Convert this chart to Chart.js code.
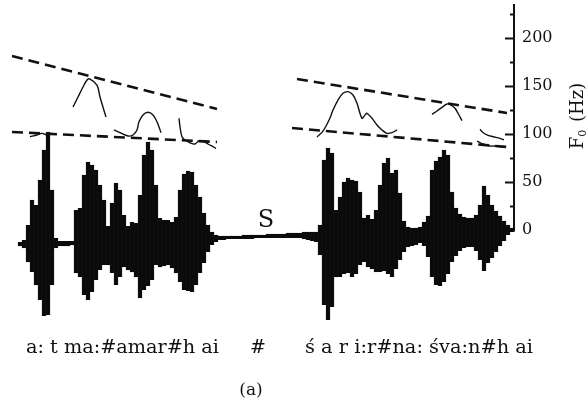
<!DOCTYPE html>
<html>
<head>
<meta charset="utf-8">
<script src="https://cdn.jsdelivr.net/npm/chart.js@4.4.1/dist/chart.umd.min.js"></script>
<style>
html,body{margin:0;padding:0;background:#fff;}
#wrap{width:588px;height:401px;}
</style>
</head>
<body>
<div id="wrap"><canvas id="c" width="588" height="401"></canvas></div>
<script>
const FONT = '"DejaVu Serif", "Liberation Serif", serif';

// ---- speech waveform envelope (time units along the record, amplitude in arbitrary units)
const waveStart = 20, waveStep = 4;
const waveTop = [
  -2, 0, 15, 40, 35, 60, 90, 108, 50, 2, -1, -1, -1, -1,
  30, 32, 65, 78, 75, 70, 55, 40, 14, 37, 57, 50, 25, 14, 18, 17,
  45, 85, 98, 90, 55, 22, 20, 20, 18, 23, 50, 66, 69, 68, 55, 43, 27, 15, 8, 5,
  4, 4, 4, 4, 4, 4, 5, 5, 5, 5, 5, 5, 6, 6, 6, 6, 6, 7, 7, 7, 7, 8, 8, 8, 8,
  15, 80, 92, 87, 30, 43, 58, 62, 60, 59, 48, 22, 25, 21, 30, 55, 77, 82, 67, 70,
  47, 19, 13, 12, 12, 13, 18, 24, 70, 79, 83, 90, 85, 48, 32, 26, 23, 22, 22, 25,
  35, 54, 45, 35, 29, 24, 19, 15, 12
];
const waveBottom = [
  -6, -8, -22, -32, -45, -60, -76, -75, -45, -8, -6, -6, -6, -5,
  -33, -37, -55, -60, -52, -40, -30, -25, -25, -33, -45, -37, -27, -30, -32, -37,
  -58, -50, -46, -40, -25, -27, -26, -25, -28, -33, -42, -50, -51, -52, -45, -33, -23, -12, -5, -2,
  0, 0, 1, 1, 1, 1, 1, 1, 1, 2, 2, 2, 2, 2, 2, 2, 2, 2, 2, 2, 2, 1, 0, -1, -2,
  -15, -65, -80, -67, -37, -37, -34, -33, -37, -34, -25, -22, -27, -29, -32, -32, -31, -34, -37, -29,
  -20, -12, -7, -6, -5, -3, -6, -17, -37, -45, -46, -42, -34, -22, -16, -11, -8, -7, -7, -11,
  -20, -31, -23, -18, -12, -6, -1, 5, 8
];
const waveTime = waveTop.map((_, i) => waveStart + i * waveStep);

// ---- F0 declination lines (dashed), Hz
const upper1T = [12, 217];  const upper1F = [181.3, 126.0];
const lower1T = [12, 217];  const lower1F = [102.1, 91.7];
const upper2T = [297, 507]; const upper2F = [157.3, 121.9];
const lower2T = [292, 507]; const lower2F = [106.3, 86.5];

// ---- F0 contours (solid), Hz
const contW_T = [30, 37, 42, 47, 50];
const contW_F = [97.2, 99.0, 100.7, 99.0, 101.4];
const contA_T = [73, 78, 83, 87, 90, 97, 100, 106];
const contA_F = [128.1, 138.5, 149.0, 156.3, 157.3, 151.0, 138.5, 117.7];
const contB_T = [114, 120, 128, 133, 137, 139, 143, 148, 153, 157, 161];
const contB_F = [104.2, 101.4, 97.9, 99.0, 104.2, 112.8, 119.8, 122.6, 119.8, 112.8, 101.4];
const contC_T = [179, 180, 182, 185, 190, 195, 199, 204, 208, 213, 216];
const contC_F = [116.4, 107.6, 97.2, 93.8, 90.9, 89.6, 93.0, 92.0, 89.6, 86.8, 85.1];
const contD_T = [317, 323, 330, 333, 338, 343, 348, 353, 357, 362, 365, 367, 372, 377, 382, 387, 392, 397];
const contD_F = [96.9, 103.1, 116.7, 125.0, 135.4, 142.4, 144.1, 140.6, 132.0, 116.4, 119.8, 121.6, 116.4, 109.4, 104.2, 100.7, 101.4, 104.2];
const contE_T = [432, 437, 442, 447, 451, 455, 458, 462];
const contE_F = [120.5, 124.0, 127.8, 131.3, 130.2, 126.8, 121.6, 113.9];
const contF_T = [480, 482, 487, 493, 500, 504];
const contF_F = [104.9, 102.4, 99.0, 97.2, 95.5, 93.8];
const contG_T = [477, 483, 490, 497, 502];
const contG_F = [92.7, 89.6, 87.5, 87.5, 86.5];

// ---- axis
const f0TickLabels = [0, 50, 100, 150, 200];
const f0Title = ['F', '0', ' (Hz)'];

// ---- captions
const silenceLabel = 'S';
const silenceT = 266;
const phraseLeft = 'a: t ma:#amar#h ai';
const phraseMid = '#';
const phraseRight = 'ś a r i:r#na: śva:n#h ai';
const panelLabel = '(a)';

const pts = (t, f) => t.map((v, i) => ({x: v, y: f[i]}));
const mkLine = (t, f, dashed) => ({
  type: 'line', data: pts(t, f), xAxisID: 'x', yAxisID: 'y',
  borderColor: '#111', borderWidth: dashed ? 2.6 : 1.4,
  borderDash: dashed ? [11, 6] : [], pointRadius: 0,
  tension: dashed ? 0 : 0.35, fill: false, clip: false, order: 0
});

const textPlugin = {
  id: 'texts',
  beforeDraw(chart) {
    const c = chart.ctx;
    c.save(); c.fillStyle = '#fff'; c.fillRect(0, 0, chart.width, chart.height); c.restore();
  },
  afterDraw(chart) {
    const c = chart.ctx;
    const xs = chart.scales.x;
    c.save();
    c.fillStyle = '#111';
    c.textBaseline = 'alphabetic';
    // silence label
    c.font = '24px ' + FONT;
    c.textAlign = 'center';
    c.fillText(silenceLabel, xs.getPixelForValue(silenceT), 227);
    // transcription, fitted to width
    const fitText = (txt, x0, x1, y) => {
      c.font = '20px ' + FONT;
      const w = c.measureText(txt).width;
      const size = 20 * (x1 - x0) / w;
      c.font = size.toFixed(2) + 'px ' + FONT;
      c.textAlign = 'left';
      c.fillText(txt, x0, y);
    };
    fitText(phraseLeft, 26, 219, 353);
    fitText(phraseRight, 305, 533, 353);
    c.font = '19px ' + FONT;
    c.textAlign = 'center';
    c.fillText(phraseMid, 258, 353);
    c.font = '17px ' + FONT;
    c.fillText(panelLabel, 251, 395);
    // axis title, rotated
    c.translate(578, 116);
    c.rotate(-Math.PI / 2);
    const big = '18px ' + FONT, small = '11px ' + FONT;
    c.font = big; const w1 = c.measureText(f0Title[0]).width;
    c.font = small; const w2 = c.measureText(f0Title[1]).width;
    c.font = big; const w3 = c.measureText(f0Title[2]).width;
    let x = -(w1 + w2 + 2 + w3) / 2;
    c.textAlign = 'left';
    c.textBaseline = 'middle';
    c.font = big; c.fillText(f0Title[0], x, 0); x += w1;
    c.font = small; c.fillText(f0Title[1], x, 5); x += w2 + 2;
    c.font = big; c.fillText(f0Title[2], x, 0);
    c.restore();
  }
};

new Chart(document.getElementById('c'), {
  type: 'line',
  data: {
    datasets: [
      {
        type: 'bar', xAxisID: 'x', yAxisID: 'y2',
        data: waveTime.map((t, i) => ({x: t, y: [waveBottom[i], waveTop[i]]})),
        backgroundColor: '#0a0a0a', borderColor: '#0a0a0a', borderWidth: 0.6,
        barPercentage: 1, categoryPercentage: 1, clip: false, order: 1
      },
      mkLine(upper1T, upper1F, true), mkLine(lower1T, lower1F, true),
      mkLine(upper2T, upper2F, true), mkLine(lower2T, lower2F, true),
      mkLine(contW_T, contW_F, false), mkLine(contA_T, contA_F, false),
      mkLine(contB_T, contB_F, false), mkLine(contC_T, contC_F, false),
      mkLine(contD_T, contD_F, false), mkLine(contE_T, contE_F, false),
      mkLine(contF_T, contF_F, false), mkLine(contG_T, contG_F, false)
    ]
  },
  options: {
    responsive: false,
    animation: false,
    events: [],
    layout: {padding: {left: 0, right: 0, top: 5, bottom: 171}},
    plugins: {legend: {display: false}, tooltip: {enabled: false}, title: {display: false}},
    scales: {
      x: {type: 'linear', min: 0, max: 514, display: false, offset: false},
      y: {
        type: 'linear', position: 'right', min: 0, max: 234.4,
        afterFit(s) { s.width = 74; s.paddingTop = 0; s.paddingBottom = 0; },
        border: {display: true, color: '#111', width: 2},
        grid: {
          drawOnChartArea: false, drawTicks: true, tickLength: -9, tickWidth: 2, tickColor: '#111',
          tickBorderDash: ctx => (ctx.tick && f0TickLabels.includes(ctx.tick.value)) ? [] : [5, 40]
        },
        ticks: {
          stepSize: 25, includeBounds: false, autoSkip: false, padding: 17, color: '#111',
          font: {family: FONT, size: 16},
          callback: v => f0TickLabels.includes(v) ? String(v) : ''
        }
      },
      y2: {type: 'linear', display: false, min: 10, max: 235}
    }
  },
  plugins: [textPlugin]
});
</script>
</body>
</html>
